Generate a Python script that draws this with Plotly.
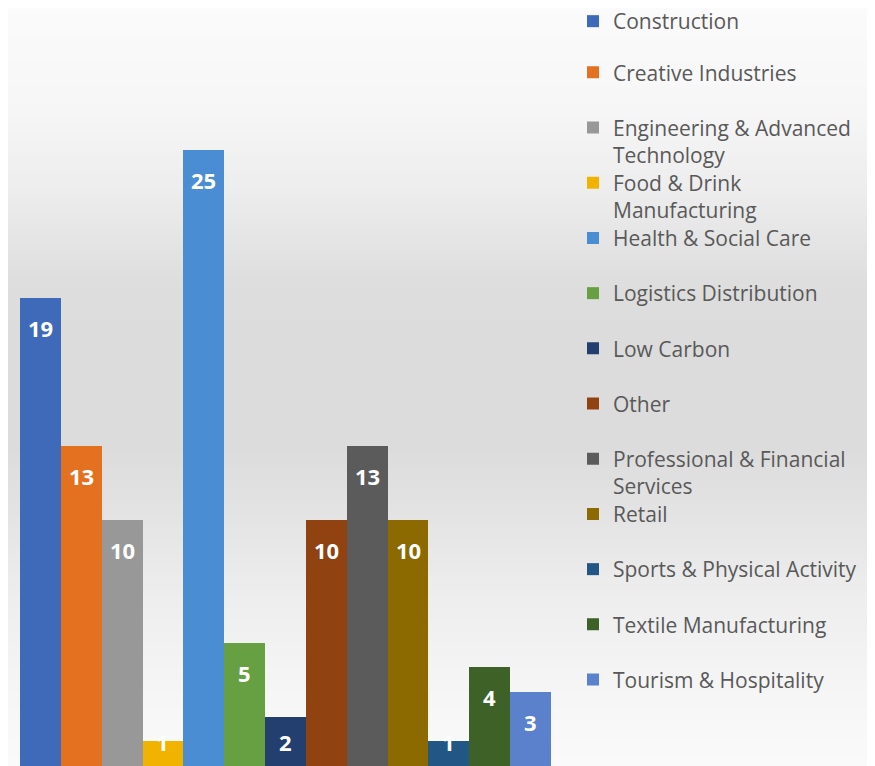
import plotly.graph_objects as go

categories = ["Construction", "Creative Industries", "Engineering & Advanced Technology",
              "Food & Drink Manufacturing", "Health & Social Care", "Logistics Distribution",
              "Low Carbon", "Other", "Professional & Financial Services", "Retail",
              "Sports & Physical Activity", "Textile Manufacturing", "Tourism & Hospitality"]
values = [19, 13, 10, 1, 25, 5, 2, 10, 13, 10, 1, 4, 3]
legend_labels = ["Construction", "Creative Industries", "Engineering & Advanced<br>Technology",
                 "Food & Drink<br>Manufacturing", "Health & Social Care", "Logistics Distribution",
                 "Low Carbon", "Other", "Professional & Financial<br>Services", "Retail",
                 "Sports & Physical Activity", "Textile Manufacturing", "Tourism & Hospitality"]
colors = ["#3F69B9", "#E4711F", "#989898", "#F2B300", "#4A8DD2", "#67A042", "#233F6F",
          "#904210", "#5B5B5B", "#8C6A00", "#225785", "#3E6128", "#5B80CC"]

OFF = 8  # page body margin
W, H = 875 - OFF, 766 - OFF
ML, MR, MT, MB = 20 - OFF, 875 - 551, 27 - OFF, 0
plot_h = H - MT - MB
plot_w = W - ML - MR
YMAX = 30
pxu = plot_h / YMAX

fig = go.Figure()
for i, (c, v, lab, col) in enumerate(zip(categories, values, legend_labels, colors)):
    fig.add_trace(go.Bar(
        x=[c], y=[v], name=lab, marker=dict(color=col, line=dict(width=0)),
        legend="legend" if i == 0 else f"legend{i+1}", hoverinfo="skip", showlegend=True))

# data labels
for c, v in zip(categories, values):
    fig.add_annotation(x=c, y=max(v, 54 / pxu), yref="y", xref="x", text=f"<b>{v}</b>",
                       showarrow=False, yshift=-30, yanchor="middle",
                       font=dict(family="Open Sans", size=22, color="white"))

# background gradient (vertical), keyed by screen pixel row
stops = [(0, 251), (100, 247), (200, 236), (280, 222), (330, 220), (450, 220),
         (520, 228), (600, 238), (700, 246), (766, 250)]
def gray_at(py):
    for (a, ga), (b, gb) in zip(stops[:-1], stops[1:]):
        if a <= py <= b:
            return ga + (gb - ga) * (py - a) / (b - a)
    return stops[-1][1]
band = 6
for y0 in range(0, H, band):
    g = int(round(gray_at(y0 + OFF + band / 2)))
    fig.add_shape(type="rect", xref="paper", yref="paper",
                  x0=-ML / plot_w - 0.01, x1=(W - ML) / plot_w + 0.01,
                  y0=(H - MB - (y0 + band)) / plot_h, y1=(H - MB - y0) / plot_h + 0.001,
                  fillcolor=f"rgb({g},{g},{g})", line=dict(width=0), layer="below")

layout = dict(
    width=W, height=H, margin=dict(l=ML, r=MR, t=MT, b=MB, autoexpand=False),
    paper_bgcolor="#f0f0f0", plot_bgcolor="rgba(0,0,0,0)",
    barmode="overlay", bargap=0, showlegend=True,
    xaxis=dict(visible=False, range=[-0.5, len(categories) - 0.5],
               categoryorder="array", categoryarray=categories),
    yaxis=dict(visible=False, range=[0, YMAX]),
    font=dict(family="Open Sans", color="#595959"),
)
step = 55.2
first_center = 18  # screen px
legend_left_px = 613 - OFF - 40
for i in range(len(categories)):
    key = "legend" if i == 0 else f"legend{i+1}"
    center = max(first_center + step * i, 22)  # keep first entry inside the page
    top_px = center - OFF - 21
    layout[key] = dict(
        x=(legend_left_px - ML) / plot_w, xanchor="left",
        y=(H - MB - top_px) / plot_h, yanchor="top",
        bgcolor="rgba(0,0,0,0)", borderwidth=0,
        font=dict(family="Open Sans", size=21, color="#595959"),
        itemclick=False, itemdoubleclick=False, valign="top")
fig.update_layout(**layout)
fig.write_html("out.html")
